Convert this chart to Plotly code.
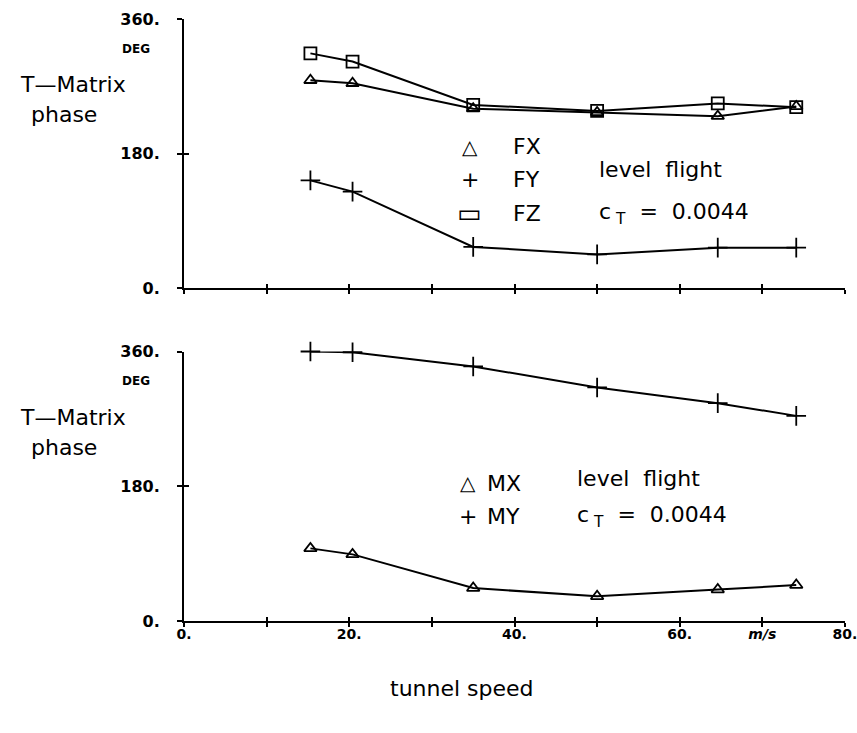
import plotly.graph_objects as go

# ---------------- data ----------------
speed = [15.3, 20.4, 35.0, 50.0, 64.6, 74.1]          # tunnel speed, m/s

fx = [278, 274, 240, 235, 230, 243]                   # top panel, deg
fy = [144, 129, 55, 45, 54, 54]
fz = [314, 303, 245, 237, 247, 242]

mx = [97, 89, 44, 33, 42, 48]                         # bottom panel, deg
my = [360, 359, 340, 312, 291, 274]

y_tickvals = [0, 180, 360]
y_ticktext = ["0.", "180.", "360."]
x_tickvals = [0, 10, 20, 30, 40, 50, 60, 70, 80]
x_ticktext = ["0.", "", "20.", "", "40.", "", "60.", "<i>m/s</i>", "80."]

# ---------------- styling ----------------
BLACK = "black"
FONT = "DejaVu Sans"
XDOM = [184 / 857, 845 / 857]
TOP_DOM = [1 - 288 / 733, 1 - 19 / 733]
BOT_DOM = [1 - 621 / 733, 1 - 351.5 / 733]

fig = go.Figure()


def series(x, y, symbol, size, xa, ya):
    fig.add_trace(go.Scatter(
        x=x, y=y, mode="lines+markers", xaxis=xa, yaxis=ya,
        line=dict(color=BLACK, width=2),
        marker=dict(symbol=symbol, size=size, color=BLACK,
                    line=dict(color=BLACK, width=1.8)),
        cliponaxis=False, showlegend=False, hoverinfo="skip"))


# top panel
series(speed, fx, "triangle-up-open", 11, "x", "y")
series(speed, fy, "cross-thin-open", 14, "x", "y")
series(speed, fz, "square-open", 12, "x", "y")
# bottom panel
series(speed, mx, "triangle-up-open", 11, "x2", "y2")
series(speed, my, "cross-thin-open", 14, "x2", "y2")

# helper empty traces for overlay axes (crossing tick marks)
for xa, ya in [("x3", "y"), ("x", "y3"), ("x4", "y2"), ("x2", "y4")]:
    fig.add_trace(go.Scatter(x=[None], y=[None], xaxis=xa, yaxis=ya,
                             showlegend=False, hoverinfo="skip"))

ytickfont = dict(family=FONT, size=16, color=BLACK, weight="bold")
xtickfont = dict(family=FONT, size=14, color=BLACK, weight="bold")

base_x = dict(range=[0, 80], domain=XDOM, showgrid=False, zeroline=False,
              showline=True, linecolor=BLACK, linewidth=2,
              tickmode="array", tickvals=x_tickvals, ticks="outside",
              ticklen=4, tickwidth=1.5, tickcolor=BLACK, tickfont=xtickfont,
              ticklabelstandoff=-5,
              ticklabeloverflow="allow", automargin=False)
base_y = dict(range=[0, 360], showgrid=False, zeroline=False,
              showline=True, linecolor=BLACK, linewidth=2,
              tickmode="array", tickvals=y_tickvals, ticktext=y_ticktext,
              ticks="outside", ticklen=5, tickwidth=1.5, tickcolor=BLACK,
              tickfont=ytickfont, ticklabelstandoff=14,
              ticklabeloverflow="allow", automargin=False)

over_x = dict(range=[0, 80], domain=XDOM, showgrid=False, zeroline=False,
              showline=False, tickmode="array", tickvals=x_tickvals[1:],
              ticks="inside", ticklen=4, tickwidth=1.5, tickcolor=BLACK,
              showticklabels=False, automargin=False)
over_y = dict(range=[0, 360], showgrid=False, zeroline=False, showline=False,
              tickmode="array", tickvals=[180, 360], ticks="inside",
              ticklen=5, tickwidth=1.5, tickcolor=BLACK, showticklabels=False,
              automargin=False)

fig.update_layout(
    width=857, height=733,
    margin=dict(l=0, r=0, t=0, b=0, pad=0, autoexpand=False),
    paper_bgcolor="white", plot_bgcolor="white",
    showlegend=False,
    xaxis=dict(base_x, anchor="y", showticklabels=False),
    yaxis=dict(base_y, anchor="x", domain=TOP_DOM),
    xaxis2=dict(base_x, anchor="y2", ticktext=x_ticktext),
    yaxis2=dict(base_y, anchor="x2", domain=BOT_DOM),
    xaxis3=dict(over_x, overlaying="x", anchor="y"),
    yaxis3=dict(over_y, overlaying="y", anchor="x", domain=TOP_DOM),
    xaxis4=dict(over_x, overlaying="x2", anchor="y2"),
    yaxis4=dict(over_y, overlaying="y2", anchor="x2", domain=BOT_DOM),
)

txt = dict(family=FONT, size=22, color=BLACK)
ann = []


def label(text, x, y, xref, yref, xanchor="left", font=txt, align="left"):
    ann.append(dict(text=text, x=x, y=y, xref=xref, yref=yref,
                    xanchor=xanchor, yanchor="middle", showarrow=False,
                    font=font, align=align))


# axis titles and units
title_font = dict(family=FONT, size=22, color=BLACK)
deg_font = dict(family=FONT, size=12, color=BLACK, weight="bold")
for yref in ["y", "y2"]:
    label("T\u2014Matrix", 73 / 857, 272, "paper", yref,
          xanchor="center", font=title_font)
    label("phase", 64 / 857, 232, "paper", yref,
          xanchor="center", font=title_font)
    label("DEG", 136 / 857, 320, "paper", yref, xanchor="center", font=deg_font)

label("tunnel speed", 462 / 857, 1 - 688 / 733, "paper", "paper",
      xanchor="center", font=title_font)

sym_font = dict(family=FONT, size=26, color=BLACK)
tri_font = dict(family=FONT, size=20, color=BLACK)
# top legend block
label("\u25b3", 34.6, 189, "x", "y", xanchor="center", font=tri_font)
label("+", 34.6, 145, "x", "y", xanchor="center")
label("\u25ad", 34.6, 100, "x", "y", xanchor="center", font=sym_font)
label("FX", 39.6, 189, "x", "y")
label("FY", 39.6, 145, "x", "y")
label("FZ", 39.6, 100, "x", "y")
label("level\u00a0\u00a0flight", 50.0, 158, "x", "y")
label("c<sub>\u00a0T</sub>\u00a0\u00a0=\u00a0\u00a00.0044", 50.0, 100, "x", "y")

# bottom legend block
label("\u25b3", 34.4, 184, "x2", "y2", xanchor="center", font=tri_font)
label("+", 34.4, 139, "x2", "y2", xanchor="center")
label("MX", 36.4, 184, "x2", "y2")
label("MY", 36.4, 139, "x2", "y2")
label("level\u00a0\u00a0flight", 47.3, 191, "x2", "y2")
label("c<sub>\u00a0T</sub>\u00a0\u00a0=\u00a0\u00a00.0044", 47.3, 139, "x2", "y2")

fig.update_layout(annotations=ann)

fig.write_html("out.html")
